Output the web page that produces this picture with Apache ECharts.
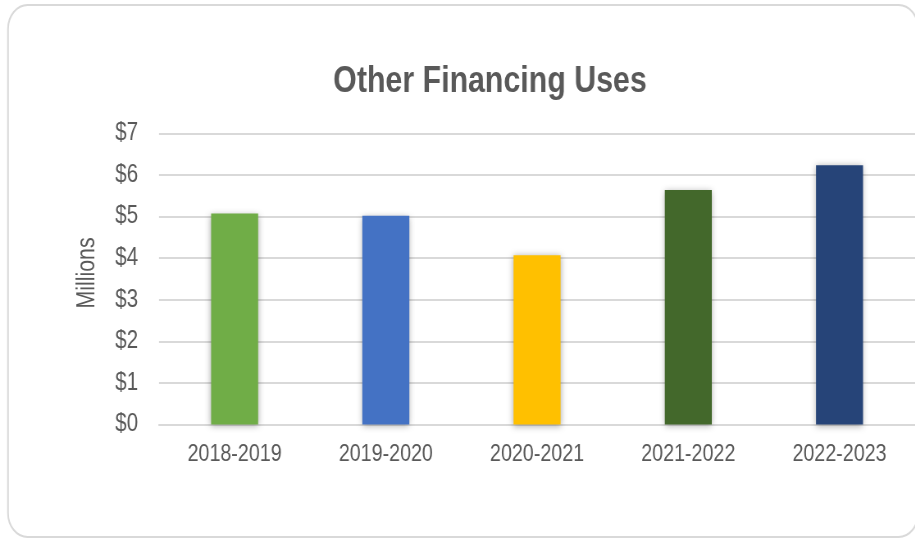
<!DOCTYPE html>
<html>
<head>
<meta charset="utf-8">
<script src="https://cdn.jsdelivr.net/npm/echarts@6/dist/echarts.min.js"></script>
<style>
  html, body { margin: 0; padding: 0; background: #fff; overflow: hidden; }
  /* The chart is laid out wider and squeezed horizontally so the
     sans-serif text takes on a condensed, narrow look. */
  #chart { width: 1116px; height: 540px; transform-origin: 0 0; transform: scaleX(0.82); }
</style>
</head>
<body>
<div id="chart"></div>
<script>
// Fiscal years and amounts (millions of dollars)
const categories = ['2018-2019', '2019-2020', '2020-2021', '2021-2022', '2022-2023'];
const values = [5.07, 5.02, 4.07, 5.64, 6.23];
const barColors = ['#70AD47', '#4472C4', '#FFC000', '#43682B', '#264478'];
const yTicks = [0, 1, 2, 3, 4, 5, 6, 7];

const SX = 0.82; // horizontal squeeze applied to the whole chart
const FONT = '"Liberation Sans", Arial, sans-serif';
const TEXT = '#595959';

const chart = echarts.init(document.getElementById('chart'), null, { renderer: 'canvas' });

chart.setOption({
  animation: false,
  backgroundColor: '#ffffff',
  graphic: [
    {
      type: 'rect',
      shape: { x: 8 / SX, y: 5, width: 1110, height: 532, r: 24 },
      style: { fill: 'none', stroke: '#d9d9d9', lineWidth: 2 },
      silent: true,
      z: -10
    },
    {
      type: 'text',
      x: 490 / SX,
      y: 82,
      style: {
        text: 'Other Financing Uses',
        fill: TEXT,
        font: 'bold 37px ' + FONT,
        textAlign: 'center',
        textVerticalAlign: 'middle'
      }
    },
    {
      // rotated axis title; scaled so its stroke thickness survives the squeeze
      type: 'text',
      x: 87 / SX,
      y: 273,
      rotation: Math.PI / 2,
      scaleX: SX,
      scaleY: 1 / SX,
      style: {
        text: 'Millions',
        fill: TEXT,
        font: '26px ' + FONT,
        textAlign: 'center',
        textVerticalAlign: 'middle'
      }
    }
  ],
  grid: { left: 159 / SX, right: 0, top: 133.3, bottom: 115.5, containLabel: false },
  xAxis: {
    type: 'category',
    data: categories,
    axisLine: { show: true, lineStyle: { color: '#d9d9d9', width: 2 } },
    axisTick: { show: false },
    axisLabel: { color: TEXT, fontSize: 24, fontFamily: FONT, margin: 18 }
  },
  yAxis: {
    type: 'value',
    min: yTicks[0],
    max: yTicks[yTicks.length - 1],
    interval: 1,
    axisLine: { show: false },
    axisTick: { show: false },
    axisLabel: {
      color: TEXT, fontSize: 25, fontFamily: FONT, margin: 21 / SX,
      formatter: v => '$' + v
    },
    splitLine: { lineStyle: { color: '#d9d9d9', width: 2 } }
  },
  series: [{
    type: 'bar',
    barWidth: 47 / SX,
    data: values.map((v, i) => ({
      value: v,
      itemStyle: {
        color: barColors[i],
        shadowBlur: 7,
        shadowColor: 'rgba(0,0,0,0.35)',
        shadowOffsetY: 1
      }
    }))
  }]
});
</script>
</body>
</html>
